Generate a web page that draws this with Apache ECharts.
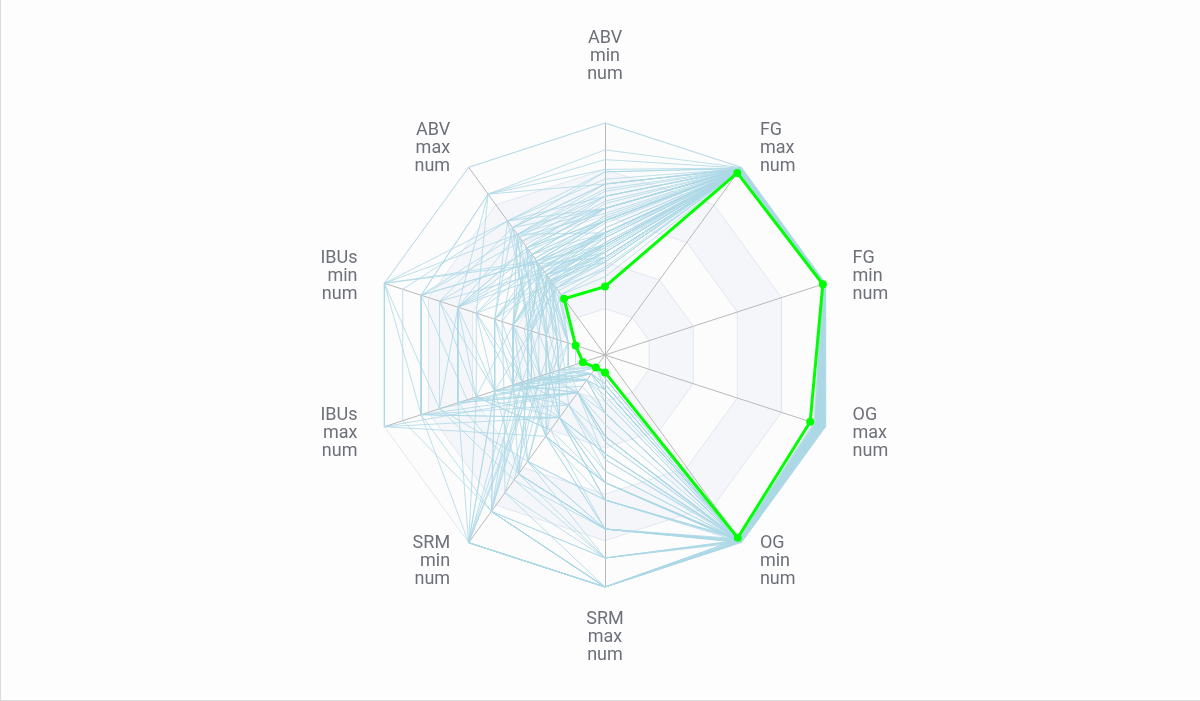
<!DOCTYPE html>
<html>
<head>
<meta charset="utf-8">
<style>
  html, body { margin: 0; padding: 0; background: #fdfdfd; }
  #chart { width: 1199px; height: 700px; border-left: 1px solid #dcdcdc; border-bottom: 1px solid #dcdcdc; }
</style>
<script src="https://cdn.jsdelivr.net/npm/echarts@6/dist/echarts.min.js"></script>
</head>
<body>
<div id="chart"></div>
<script>
// axes, counter-clockwise from the top
var axisNames = ['ABV\nmin\nnum', 'ABV\nmax\nnum', 'IBUs\nmin\nnum', 'IBUs\nmax\nnum', 'SRM\nmin\nnum',
                 'SRM\nmax\nnum', 'OG\nmin\nnum', 'OG\nmax\nnum', 'FG\nmin\nnum', 'FG\nmax\nnum'];
var axisMax = [9.5, 14, 60, 120, 30, 40, 1.06, 1.13, 1.02, 1.04];

// one entry per beer style
var abvMin = [4.2, 4.5, 4.6, 5.0, 4.8, 5.5, 6.0, 7.5, 4.5, 5.5, 6.5, 8.4, 9.5, 4.0, 4.2, 5.0, 6.0, 7.6, 4.0, 3.2,
              3.5, 3.8, 4.5, 5.0, 5.5, 6.0, 7.0, 4.8, 4.5, 5.0, 5.5, 6.0, 6.5, 7.0, 5.0, 4.2, 4.0, 3.8, 4.5, 5.5,
              6.5, 5.0, 6.0, 4.0, 5.0, 5.5, 6.5, 7.0, 4.5, 5.0, 4.0, 5.5, 3.5, 6.0, 7.5,
              5.0, 6.0, 4.5, 5.5, 4.2, 7.0, 8.0, 5.8, 4.8, 3.8, 4.4, 5.2, 6.2, 4.6, 5.4, 3.6, 4.0, 6.8, 5.6, 4.9,
              6.3, 5.2, 4.3, 7.2, 5.0, 4.4, 6.7, 5.7, 3.9, 6.0];
var abvMax = [5.3, 5.8, 6.0, 6.2, 6.0, 7.5, 8.0, 10.0, 6.2, 7.0, 9.0, 12.0, 14.0, 5.5, 5.6, 7.0, 8.0, 12.0, 5.0, 4.5,
              5.0, 5.2, 6.0, 6.5, 7.5, 9.0, 9.5, 5.6, 5.5, 6.0, 7.0, 7.5, 8.5, 9.5, 6.5, 5.8, 5.5, 5.0, 6.5, 8.0,
              10.0, 7.0, 8.5, 6.0, 6.8, 7.2, 8.0, 9.0, 5.5, 6.0, 5.0, 7.0, 4.5, 7.5, 9.5,
              7.5, 9.5, 7.0, 8.0, 6.5, 12.0, 12.0, 8.8, 6.8, 6.0, 5.4, 6.4, 7.8, 5.8, 6.8, 4.8, 6.8, 9.0, 7.8, 6.6,
              8.2, 6.2, 5.3, 10.0, 9.0, 6.0, 8.8, 7.2, 5.4, 10.0];
var ibuMin = [8, 20, 25, 25, 18, 40, 40, 60, 30, 50, 50, 50, 60, 20, 25, 30, 40, 50, 20, 10,
              20, 25, 16, 21, 16, 21, 16, 13, 10, 10, 16, 21, 25, 30, 30, 25, 13, 16, 21, 25,
              30, 40, 50, 10, 13, 10, 13, 25, 30, 40, 21, 60, 16, 25, 21,
              35, 45, 50, 20, 40, 35, 40, 18, 60, 25, 12, 28, 45, 14, 20, 10, 35, 60, 25, 30,
              15, 45, 35, 20, 40, 18, 28, 12, 22, 55];
var ibuMax = [16, 40, 50, 50, 36, 80, 80, 120, 60, 100, 100, 100, 120, 40, 50, 60, 80, 100, 40, 25,
              35, 50, 30, 42, 32, 42, 32, 25, 20, 20, 30, 35, 45, 60, 50, 40, 25, 30, 42, 50,
              60, 80, 100, 20, 25, 20, 30, 50, 60, 80, 42, 120, 32, 50, 42,
              60, 70, 75, 50, 60, 70, 90, 45, 90, 70, 28, 45, 90, 35, 60, 30, 50, 100, 35, 45,
              25, 60, 45, 40, 70, 28, 55, 22, 38, 110];
var srmMin = [2, 3, 3, 4, 4, 6, 6, 6, 5, 6, 10, 10, 13, 13, 19, 25, 30, 30, 25, 10,
              6, 6, 10, 13, 19, 4, 6, 2, 2, 3, 4, 10, 13, 19, 10, 4, 10, 13, 19, 25,
              30, 19, 25, 4, 3, 6, 10, 2, 2, 3, 25, 10, 13, 30, 19,
              8, 12, 6, 17, 25, 30, 20, 30, 3, 10, 17, 8, 17, 22, 30, 17, 6, 8, 20, 25,
              13, 4, 17, 30, 12, 3, 22, 8, 30, 25];
var srmMax = [4, 6, 5, 7, 6, 14, 15, 14, 10, 15, 22, 22, 30, 22, 30, 40, 40, 40, 40, 25,
              14, 18, 17, 22, 30, 10, 14, 4, 4, 6, 10, 22, 30, 35, 20, 10, 17, 22, 30, 35,
              40, 30, 40, 6, 5, 14, 25, 6, 5, 6, 40, 17, 25, 40, 30,
              20, 30, 12, 35, 40, 40, 35, 40, 8, 25, 25, 14, 30, 35, 40, 30, 10, 18, 30, 35,
              22, 8, 25, 40, 22, 6, 40, 17, 40, 40];
var ogMin = [1.040, 1.044, 1.046, 1.048, 1.045, 1.050, 1.052, 1.058, 1.045, 1.050, 1.055, 1.059, 1.060, 1.042, 1.043, 1.048, 1.052, 1.058, 1.040, 1.035,
             1.036, 1.038, 1.045, 1.047, 1.050, 1.053, 1.056, 1.044, 1.042, 1.046, 1.050, 1.053, 1.055, 1.056, 1.048, 1.042, 1.041, 1.039, 1.045, 1.050,
             1.055, 1.048, 1.052, 1.040, 1.047, 1.050, 1.055, 1.056, 1.044, 1.047, 1.040, 1.050, 1.036, 1.053, 1.058,
             1.048, 1.052, 1.045, 1.050, 1.042, 1.056, 1.058, 1.051, 1.046, 1.039, 1.043, 1.048, 1.053, 1.045, 1.049, 1.037, 1.040, 1.055, 1.050, 1.047,
             1.054, 1.048, 1.043, 1.057, 1.048, 1.043, 1.055, 1.051, 1.040, 1.053];
var ogMax = [1.080, 1.090, 1.095, 1.100, 1.092, 1.105, 1.110, 1.125, 1.095, 1.110, 1.115, 1.128, 1.130, 1.088, 1.090, 1.100, 1.112, 1.125, 1.085, 1.070,
             1.075, 1.080, 1.092, 1.098, 1.105, 1.112, 1.118, 1.090, 1.085, 1.095, 1.105, 1.110, 1.116, 1.120, 1.100, 1.090, 1.088, 1.082, 1.095, 1.105,
             1.118, 1.100, 1.112, 1.088, 1.098, 1.105, 1.114, 1.118, 1.090, 1.098, 1.085, 1.105, 1.075, 1.110, 1.122,
             1.102, 1.112, 1.095, 1.105, 1.090, 1.122, 1.126, 1.108, 1.098, 1.085, 1.090, 1.100, 1.112, 1.094, 1.103, 1.078, 1.088, 1.118, 1.106, 1.098,
             1.112, 1.100, 1.090, 1.120, 1.105, 1.091, 1.116, 1.106, 1.086, 1.115];
var fgMin = [1.008, 1.010, 1.010, 1.011, 1.010, 1.012, 1.013, 1.016, 1.010, 1.012, 1.014, 1.018, 1.020, 1.010, 1.011, 1.012, 1.014, 1.017, 1.009, 1.008,
             1.008, 1.009, 1.010, 1.011, 1.012, 1.012, 1.014, 1.009, 1.008, 1.010, 1.011, 1.013, 1.014, 1.015, 1.012, 1.010, 1.009, 1.009, 1.011, 1.013,
             1.015, 1.012, 1.014, 1.008, 1.010, 1.011, 1.013, 1.013, 1.009, 1.010, 1.009, 1.012, 1.008, 1.013, 1.015,
             1.011, 1.013, 1.010, 1.012, 1.010, 1.016, 1.017, 1.013, 1.010, 1.009, 1.010, 1.011, 1.013, 1.010, 1.012, 1.008, 1.009, 1.014, 1.012, 1.011,
             1.013, 1.011, 1.010, 1.015, 1.012, 1.010, 1.014, 1.012, 1.009, 1.014];
var fgMax = [1.012, 1.015, 1.016, 1.018, 1.015, 1.022, 1.025, 1.035, 1.016, 1.022, 1.030, 1.038, 1.040, 1.016, 1.017, 1.022, 1.028, 1.036, 1.014, 1.011,
             1.012, 1.013, 1.016, 1.019, 1.024, 1.026, 1.030, 1.014, 1.012, 1.015, 1.020, 1.024, 1.028, 1.030, 1.020, 1.015, 1.014, 1.013, 1.018, 1.022,
             1.030, 1.022, 1.028, 1.013, 1.016, 1.020, 1.026, 1.028, 1.014, 1.016, 1.014, 1.022, 1.012, 1.025, 1.032,
             1.020, 1.027, 1.018, 1.024, 1.016, 1.034, 1.036, 1.025, 1.017, 1.014, 1.015, 1.019, 1.026, 1.016, 1.021, 1.012, 1.014, 1.029, 1.023, 1.018,
             1.026, 1.018, 1.015, 1.032, 1.022, 1.015, 1.028, 1.022, 1.013, 1.030];

// the highlighted style
var highlight = [2.8, 4.2, 8, 12, 2, 3, 1.032, 1.051, 1.007, 1.009];

var indicators = axisNames.map(function (n, i) { return { name: n, max: axisMax[i] }; });
var styleRows = abvMin.map(function (v, i) {
  return { value: [v, abvMax[i], ibuMin[i], ibuMax[i], srmMin[i], srmMax[i], ogMin[i], ogMax[i], fgMin[i], fgMax[i]] };
});

var chart = echarts.init(document.getElementById('chart'));
chart.setOption({
  animation: false,
  radar: {
    center: [604, 355],
    radius: 232,
    indicator: indicators,
    splitNumber: 5,
    nameGap: 23,
    axisName: {
      color: '#6E7079',
      fontSize: 18,
      lineHeight: 18,
      fontFamily: 'Roboto',
      padding: [0, 5, 17, 5]
    },
    axisLine: { lineStyle: { color: '#b8b8b8' } },
    splitLine: { lineStyle: { color: '#E0E6F1' } },
    splitArea: { areaStyle: { color: ['rgba(250,250,250,0.2)', 'rgba(210,219,238,0.2)'] } }
  },
  series: [
    {
      type: 'radar',
      symbol: 'none',
      lineStyle: { color: '#add8e6', width: 1, opacity: 0.8 },
      data: styleRows
    },
    {
      type: 'radar',
      z: 5,
      symbol: 'circle',
      symbolSize: 8,
      itemStyle: { color: '#00ff00' },
      lineStyle: { color: '#00ff00', width: 3 },
      data: [{ value: highlight }]
    }
  ]
});
window.onresize = function () { chart.resize(); };
</script>
</body>
</html>
